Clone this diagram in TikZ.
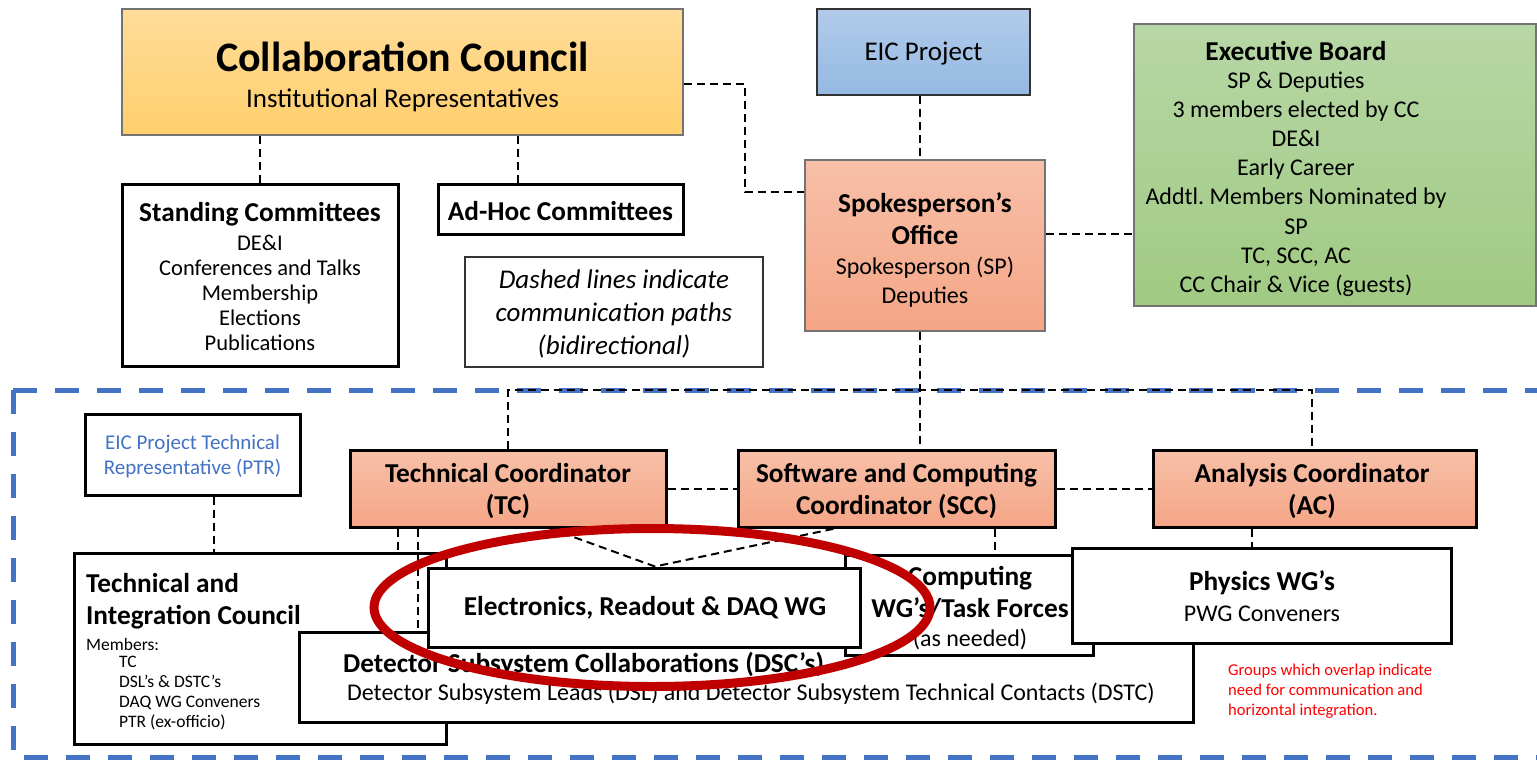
\documentclass[tikz,border=0pt]{standalone}
\usepackage{fontspec}
\setmainfont{Carlito}
\usetikzlibrary{calc}
\frenchspacing
\definecolor{ccTop}{RGB}{255,220,154}
\definecolor{ccBot}{RGB}{255,207,108}
\definecolor{spTop}{RGB}{247,192,168}
\definecolor{spBot}{RGB}{245,165,134}
\definecolor{eicTop}{RGB}{178,203,234}
\definecolor{eicBot}{RGB}{148,185,226}
\definecolor{ebTop}{RGB}{183,215,166}
\definecolor{ebBot}{RGB}{160,202,130}
\definecolor{frameBlue}{RGB}{68,114,196}
\definecolor{ptrBlue}{RGB}{68,114,196}
\definecolor{ellRed}{RGB}{192,0,0}
\definecolor{noteRed}{RGB}{255,0,0}
\newcommand{\fsz}[2]{\fontsize{#1}{#2}\selectfont}
\tikzset{
  box/.style={draw=black, line width=3pt, fill=white, inner sep=0pt, rectangle},
  thinbox/.style={draw=black!80, line width=1.6pt, fill=white, inner sep=0pt, rectangle},
  cbox/.style={draw=black!55, line width=1.6pt, inner sep=0pt, rectangle},
  rolebox/.style={draw=black, line width=3pt, inner sep=0pt, rectangle, top color=spTop, bottom color=spBot},
  conn/.style={draw=black, line width=2pt, dash pattern=on 8pt off 5pt},
  txt/.style={inner sep=0pt, align=center},
  ltxt/.style={inner sep=0pt, align=left, anchor=west},
  hd/.style={font=\fsz{27.3}{32}\bfseries},
  sub/.style={font=\fsz{24}{29}},
}
\begin{document}
\begin{tikzpicture}[x=1pt,y=-1pt]
\useasboundingbox (0,0) rectangle (1537,763);

% blue frame
\draw[frameBlue, line width=5pt, dash pattern=on 24pt off 18pt]
  (13,390) -- (1537,390);
\draw[frameBlue, line width=5pt, dash pattern=on 24pt off 18pt]
  (13,390) -- (13,757) -- (1537,757);

% top boxes
\node[cbox, top color=ccTop, bottom color=ccBot, minimum width=561pt, minimum height=126pt] (cc) at (402.5,72) {};
\node[txt, font=\fsz{42}{50}\bfseries] (cctitle) at (402.5,57) {Collaboration Council};
\node[txt, font=\fsz{27}{32}] (ccsub) at (402.5,100) {Institutional Representatives};

\node[box, minimum width=276pt, minimum height=182pt] (stand) at (260,275) {};
\node[txt, hd] (standt) at (260,214) {Standing Committees};
\node[txt, font=\fsz{22.5}{25}] (standi) at (260,293) {DE\&I\\Conferences and Talks\\Membership\\Elections\\Publications};

\node[box, minimum width=245pt, minimum height=50pt] (adhoc) at (560.5,209) {};
\node[txt, hd] (adhoct) at (560.5,211) {Ad-Hoc Committees};

\node[thinbox, minimum width=298pt, minimum height=110pt] (note) at (614,312) {};
\node[txt, font=\fsz{27}{33}\itshape] (notet) at (614,314) {Dashed lines indicate\\communication paths\\(bidirectional)};

\node[cbox, draw=black!80, top color=eicTop, bottom color=eicBot, minimum width=213pt, minimum height=86pt] (eic) at (923.5,52) {};
\node[txt, font=\fsz{27}{32}] (eict) at (923.5,54) {EIC Project};

\node[cbox, top color=spTop, bottom color=spBot, minimum width=240pt, minimum height=171pt] (sp) at (925,245.5) {};
\node[txt, hd] (spt) at (925,219) {Spokesperson’s\\Office};
\node[txt, sub] (spi) at (925,282) {Spokesperson (SP)\\Deputies};

\node[cbox, top color=ebTop, bottom color=ebBot, minimum width=402pt, minimum height=282pt] (eb) at (1335,165) {};
\node[txt, hd] (ebt) at (1296,51) {Executive Board};
\node[txt, font=\fsz{24}{29.2}] (ebi) at (1296,184) {SP \& Deputies\\3 members elected by CC\\DE\&I\\Early Career\\Addtl. Members Nominated by\\SP\\TC, SCC, AC\\CC Chair \& Vice (guests)};

% lower boxes
\node[box, minimum width=215pt, minimum height=81pt] (ptr) at (192.5,454.5) {};
\node[txt, text=ptrBlue, font=\fsz{21}{25}] (ptrt) at (192.5,456) {EIC Project Technical\\Representative (PTR)};

\node[rolebox, minimum width=316pt, minimum height=77pt] (tc) at (508,488.5) {};
\node[txt, hd] (tct) at (508,491) {Technical Coordinator\\(TC)};
\node[rolebox, minimum width=317pt, minimum height=77pt] (scc) at (896.5,488.5) {};
\node[txt, hd] (scct) at (896.5,491) {Software and Computing\\Coordinator (SCC)};
\node[rolebox, minimum width=323pt, minimum height=77pt] (ac) at (1314.5,488.5) {};
\node[txt, hd] (act) at (1312,491) {Analysis Coordinator\\(AC)};

\node[box, minimum width=372pt, minimum height=191pt] (tic) at (260,648.5) {};
\node[ltxt, hd] (tict) at (86,601) {Technical and\\Integration Council};
\node[ltxt, font=\fsz{17.5}{20}] (ticm) at (86,644) {Members:};
\node[ltxt, font=\fsz{17.5}{20}] (tici) at (119,693) {TC\\DSL’s \& DSTC’s\\DAQ WG Conveners\\PTR (ex-officio)};

\node[box, minimum width=894pt, minimum height=90pt] (dsc) at (746,677) {};
\node[ltxt, font=\fsz{27.3}{32}\bfseries] (dsct) at (343,665) {Detector Subsystem Collaborations (DSC’s)};
\node[txt, sub] (dsci) at (751,694) {Detector Subsystem Leads (DSL) and Detector Subsystem Technical Contacts (DSTC)};

\node[box, minimum width=248pt, minimum height=100pt] (comp) at (969,605) {};
\node[txt, hd] (compt) at (970,593) {Computing\\WG’s/Task Forces};
\node[txt, sub] (compi) at (970,639) {(as needed)};

\node[box, minimum width=432pt, minimum height=79pt] (elec) at (644,607.5) {};
\node[txt, hd] (elect) at (645,608) {Electronics, Readout \& DAQ WG};

\node[box, minimum width=379pt, minimum height=95pt] (phys) at (1261.5,595.5) {};
\node[txt, hd] (physt) at (1262,583) {Physics WG’s};
\node[txt, sub] (physi) at (1262,614) {PWG Conveners};

\node[ltxt, text=noteRed, font=\fsz{16.6}{20}] (rednote) at (1228,691) {Groups which overlap indicate\\need for communication and\\horizontal integration.};

% connectors
\coordinate (x518) at (518,0);
\coordinate (x920) at (920,0);
\coordinate (bus) at (920,390);
\draw[conn] (cc.south -| stand.north) -- (stand.north);
\draw[conn] (cc.south -| x518) -- (adhoc.north -| x518);
\draw[conn] (cc.east |- 0,84) -| (745,192) -- (sp.west |- 0,192);
\draw[conn] (eic.south -| x920) -- (sp.north -| x920);
\draw[conn] (sp.east |- 0,234) -- (eb.west |- 0,234);
\draw[conn] (sp.south -| x920) -- (bus) -- (scc.north -| x920);
\draw[conn] (tc.north) |- (bus) -| (1312,450);
\draw[conn] (tc.east) -- (scc.west);
\draw[conn] (scc.east) -- (ac.west);
\draw[conn] (ptr.south -| 214,0) -- (tic.north -| 214,0);
\draw[conn] (tc.south -| 398,0) -- (tic.north -| 398,0);
\draw[conn] (tc.south -| 418,0) -- (dsc.north -| 418,0);
\draw[conn] (tc.south -| 550,0) -- (elec.north -| 655,0) -- (scc.south -| 835,0);
\draw[conn] (scc.south -| 995,0) -- (comp.north -| 995,0);
\draw[conn] (ac.south -| 1252,0) -- (phys.north -| 1252,0);

% red ellipse
\draw[ellRed, line width=9pt] (652,607.5) ellipse [x radius=278, y radius=79];
\end{tikzpicture}
\end{document}
